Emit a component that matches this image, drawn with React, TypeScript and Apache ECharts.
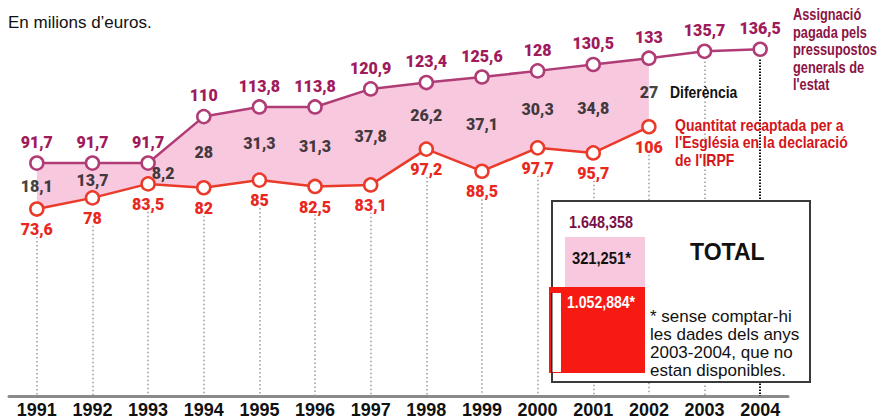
import React, { useEffect, useRef } from "react";
import * as echarts from "echarts";

const years = ["1991", "1992", "1993", "1994", "1995", "1996", "1997", "1998", "1999", "2000", "2001", "2002", "2003", "2004"];
const assigned = [91.7, 91.7, 91.7, 110, 113.8, 113.8, 120.9, 123.4, 125.6, 128, 130.5, 133, 135.7, 136.5];
const collected = [73.6, 78, 83.5, 82, 85, 82.5, 83.1, 97.2, 88.5, 97.7, 95.7, 106];
const difference = [18.1, 13.7, 8.2, 28, 31.3, 31.3, 37.8, 26.2, 37.1, 30.3, 34.8, 27];

const LABEL_FONT = "Roboto, 'Liberation Sans', sans-serif";
const SANS = "'Liberation Sans', Arial, Helvetica, sans-serif";
const PURPLE_LINE = "#b03c76";
const PURPLE_TEXT = "#a01a5c";
const RED_LINE = "#ea3a2a";
const RED_TEXT = "#e8281e";
const PINK = "#f7c8de";

const fmt = (v: number) => String(v).replace(".", ",");

export default function App() {
  const ref = useRef<HTMLDivElement>(null);
  useEffect(() => {
    if (!ref.current) return;
    const chart = echarts.init(ref.current, null, { renderer: "svg" });
    const dotted = { color: "#9a9a9a", width: 1.5, type: [1.5, 2.5] as any };
    const labelBase = { fontFamily: LABEL_FONT, fontWeight: 900, fontSize: 16 };
    const option: any = {
      animation: false,
      grid: { left: 9, right: 94, top: 15, bottom: 22, containLabel: false },
      xAxis: {
        type: "category",
        data: years,
        boundaryGap: true,
        axisLine: { show: true, lineStyle: { color: "#8a8a8a", width: 3 } },
        axisTick: { show: false },
        axisLabel: { color: "#111", fontFamily: SANS, fontWeight: "bold", fontSize: 18, margin: 5 },
        splitLine: { show: false },
      },
      yAxis: { type: "value", min: 0, max: 150, show: false, splitLine: { show: false } },
      series: [
        {
          type: "line",
          stack: "gap",
          data: collected,
          symbol: "none",
          lineStyle: { opacity: 0 },
          silent: true,
          z: 1,
        },
        {
          type: "line",
          stack: "gap",
          data: collected.map((c, i) => +(assigned[i] - c).toFixed(2)),
          symbol: "none",
          lineStyle: { opacity: 0 },
          areaStyle: { color: PINK, opacity: 1 },
          silent: true,
          z: 1,
        },
        {
          type: "line",
          data: assigned,
          symbol: "circle",
          symbolSize: 13,
          itemStyle: { color: "#fff", borderColor: PURPLE_LINE, borderWidth: 2.5 },
          lineStyle: { color: PURPLE_LINE, width: 2.5 },
          label: {
            show: true,
            position: "top",
            distance: 5,
            formatter: (p: any) => fmt(p.value),
            color: PURPLE_TEXT,
            ...labelBase,
          },
          markLine: {
            silent: true,
            symbol: ["none", "none"],
            label: { show: false },
            data: [
              [
                { coord: [years[12], assigned[12] - 4], lineStyle: dotted },
                { coord: [years[12], 0] },
              ],
              [
                { coord: [years[13], assigned[13] - 4], lineStyle: { color: "#111", width: 2, type: [1.5, 1.5] } },
                { coord: [years[13], 0] },
              ],
            ],
          },
          z: 3,
        },
        {
          type: "line",
          data: collected,
          symbol: "circle",
          symbolSize: 13,
          itemStyle: { color: "#fff", borderColor: RED_LINE, borderWidth: 2.5 },
          lineStyle: { color: RED_LINE, width: 2.5 },
          label: {
            show: true,
            position: "bottom",
            distance: 5,
            formatter: (p: any) => fmt(p.value),
            color: RED_TEXT,
            ...labelBase,
          },
          markLine: {
            silent: true,
            symbol: ["none", "none"],
            label: { show: false },
            lineStyle: dotted,
            data: collected.map((c, i) => [
              { coord: [years[i], c - 11] },
              { coord: [years[i], 0] },
            ]),
          },
          z: 3,
        },
        {
          type: "scatter",
          symbolSize: 0,
          data: collected.map((c, i) => {
            const item: any = { value: [years[i], (assigned[i] + c) / 2] };
            if (i === 2) item.label = { offset: [15, 0] };
            return item;
          }),
          label: {
            show: true,
            position: "inside",
            formatter: (p: any) => fmt(difference[p.dataIndex]),
            color: "#111",
            ...labelBase,
          },
          silent: true,
          z: 4,
        },
      ],
      graphic: {
        elements: [
          {
            type: "text",
            left: 8,
            top: 14,
            z: 100,
            style: { text: "En milions d\u2019euros.", fill: "#111", font: `17px ${SANS}` },
          },
          {
            type: "text",
            x: 793,
            y: 6,
            scaleX: 0.8,
            z: 100,
            style: {
              text: "Assignació\npagada pels\npressupostos\ngenerals de\nl'estat",
              fill: "#8c1444",
              font: `bold 16px ${SANS}`,
              lineHeight: 17.5,
            },
          },
          {
            type: "text",
            x: 670,
            y: 84,
            scaleX: 0.87,
            z: 100,
            style: { text: "Diferència", fill: "#111", font: `bold 16px ${SANS}` },
          },
          {
            type: "text",
            x: 675,
            y: 116,
            scaleX: 0.875,
            z: 100,
            style: {
              text: "Quantitat recaptada per a\nl'Església en la declaració\nde l'IRPF",
              fill: "#d4161a",
              font: `bold 16px ${SANS}`,
              lineHeight: 17.5,
            },
          },
          {
            type: "rect",
            z: 100,
            shape: { x: 552, y: 201, width: 258, height: 181 },
            style: { fill: "#fff", stroke: "#3a3a3a", lineWidth: 2 },
          },
          {
            type: "rect",
            z: 101,
            shape: { x: 565, y: 237, width: 80, height: 52 },
            style: { fill: PINK },
          },
          {
            type: "rect",
            z: 102,
            shape: { x: 549, y: 287, width: 96, height: 86 },
            style: { fill: "#f61a12" },
          },
          {
            type: "rect",
            z: 103,
            shape: { x: 552, y: 293, width: 9, height: 79 },
            style: { fill: "#fff" },
          },
          {
            type: "rect",
            z: 104,
            shape: { x: 551, y: 293, width: 1.5, height: 80 },
            style: { fill: "#222" },
          },
          {
            type: "text",
            x: 569,
            y: 214,
            scaleX: 0.9,
            z: 105,
            style: { text: "1.648,358", fill: "#7a0f45", font: `bold 16px ${SANS}` },
          },
          {
            type: "text",
            x: 572,
            y: 250,
            scaleX: 0.92,
            z: 105,
            style: { text: "321,251*", fill: "#111", font: `bold 16px ${SANS}` },
          },
          {
            type: "text",
            x: 567,
            y: 294,
            scaleX: 0.88,
            z: 105,
            style: { text: "1.052,884*", fill: "#fff", font: `bold 16px ${SANS}` },
          },
          {
            type: "text",
            x: 690,
            y: 240,
            scaleX: 0.96,
            z: 105,
            style: { text: "TOTAL", fill: "#111", font: `900 24px ${SANS}` },
          },
          {
            type: "text",
            x: 650,
            y: 307,
            z: 105,
            style: {
              text: "* sense comptar-hi\nles dades dels anys\n2003-2004, que no\nestan disponibles.",
              fill: "#111",
              font: `17px ${SANS}`,
              lineHeight: 18,
            },
          },
        ],
      },
    };
    chart.setOption(option);
    return () => chart.dispose();
  }, []);
  return <div ref={ref} style={{ width: 882, height: 419, position: "absolute", left: 0, top: 0, background: "#fff" }} />;
}
